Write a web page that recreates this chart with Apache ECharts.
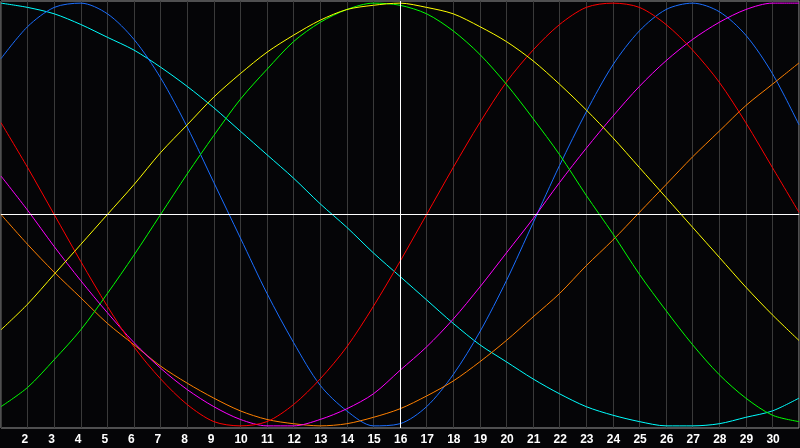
<!DOCTYPE html>
<html>
<head>
<meta charset="utf-8">
<title>Biorhythm</title>
<script src="https://cdn.jsdelivr.net/npm/echarts@6/dist/echarts.min.js"></script>
<style>
  html, body { margin: 0; padding: 0; background: #050507; }
  #chart { width: 800px; height: 448px; }
</style>
</head>
<body>
<div id="chart"></div>
<script>
// day numbers along the bottom
var days = ['1','2','3','4','5','6','7','8','9','10','11','12','13','14','15','16',
  '17','18','19','20','21','22','23','24','25','26','27','28','29','30','31'];
var markedDay = '16';

// curve values, one per day
var cyanVals = [99, 97, 94, 89, 83, 77, 69, 60, 50, 39, 28, 17, 5, -6, -18, -29,
  -40, -51, -61, -69, -77, -84, -90, -94, -97, -99, -99, -98, -95, -92, -86];
var blueVals = [73, 88, 97, 99, 94, 82, 64, 41, 15, -11, -37, -60, -80, -92, -99, -98,
  -90, -75, -55, -31, -4, 23, 48, 70, 86, 96, 99, 95, 84, 66, 42];
var yellowVals = [-54, -42, -28, -14, 0, 14, 29, 42, 55, 66, 76, 84, 91, 96, 98, 99,
  97, 94, 88, 81, 72, 61, 49, 36, 22, 8, -6, -20, -34, -47, -59];
var greenVals = [-90, -81, -68, -54, -37, -19, 0, 19, 37, 54, 68, 81, 90, 96, 99, 98,
  94, 86, 75, 61, 45, 28, 9, -9, -28, -45, -61, -75, -86, -94, -97];
var redVals = [43, 22, 0, -22, -43, -62, -77, -89, -97, -99, -97, -89, -77, -62, -43, -22,
  0, 22, 43, 62, 77, 89, 97, 99, 97, 89, 77, 62, 43, 22, 1];
var magentaVals = [18, 2, -15, -31, -46, -60, -72, -82, -90, -96, -99, -99, -96, -91, -84, -73,
  -62, -49, -34, -18, -2, 15, 31, 46, 60, 72, 82, 90, 96, 99, 99];
var orangeVals = [0, -14, -27, -39, -51, -61, -71, -79, -86, -92, -96, -98, -99, -98, -95, -91,
  -85, -78, -69, -59, -48, -37, -24, -12, 1, 14, 27, 39, 51, 61, 71];

var curves = [
  { color: '#00ffff', data: cyanVals },
  { color: '#1a6eff', data: blueVals },
  { color: '#ff8000', data: orangeVals },
  { color: '#ff00ff', data: magentaVals },
  { color: '#ff0000', data: redVals },
  { color: '#00ff00', data: greenVals },
  { color: '#ffff00', data: yellowVals }
];

var series = curves.map(function (c) {
  return {
    type: 'line',
    data: c.data,
    smooth: 0.3,
    symbol: 'none',
    silent: true,
    lineStyle: { color: c.color, width: 1 }
  };
});

// white cross at the marked day and the zero line
series.unshift({
  type: 'line',
  data: [],
  silent: true,
  markLine: {
    silent: true,
    symbol: ['none', 'none'],
    label: { show: false },
    lineStyle: { color: '#ffffff', type: 'solid', width: 1 },
    data: [{ xAxis: markedDay }, { yAxis: 0 }]
  }
});

var option = {
  backgroundColor: '#050507',
  animation: false,
  grid: [
    {
      left: 1, right: 1, top: 1, bottom: 20,
      outerBoundsMode: 'none',
      show: true,
      borderColor: '#9a9a9a',
      borderWidth: 1
    },
    // same width, moved 6px left: only carries the day labels
    { left: -5, right: 7, top: 1, bottom: 20, outerBoundsMode: 'none' }
  ],
  xAxis: [
    {
      type: 'category',
      boundaryGap: false,
      data: days,
      axisLine: { show: true, lineStyle: { color: '#9a9a9a', width: 1 } },
      axisTick: { show: false },
      axisLabel: { show: false },
      splitLine: {
        show: true,
        interval: 0,
        lineStyle: { color: '#3a3a3a', width: 1 }
      }
    },
    {
      type: 'category',
      gridIndex: 1,
      boundaryGap: false,
      data: days,
      axisLine: { show: false },
      axisTick: { show: false },
      splitLine: { show: false },
      axisLabel: {
        interval: 0,
        align: 'left',
        color: '#ffffff',
        fontFamily: 'Liberation Sans',
        fontWeight: 'bold',
        fontSize: 12,
        margin: 6,
        formatter: function (value, index) {
          if (index === 0 || index === days.length - 1) { return ''; }
          return value;
        }
      }
    }
  ],
  yAxis: [
    {
      type: 'value',
      min: -100,
      max: 100,
      axisLine: { show: false },
      axisTick: { show: false },
      axisLabel: { show: false },
      splitLine: { show: false }
    },
    {
      type: 'value',
      gridIndex: 1,
      min: -100,
      max: 100,
      show: false
    }
  ],
  series: series
};

var chart = echarts.init(document.getElementById('chart'));
chart.setOption(option);
window.addEventListener('resize', function () {
  chart.resize();
});
</script>
</body>
</html>
